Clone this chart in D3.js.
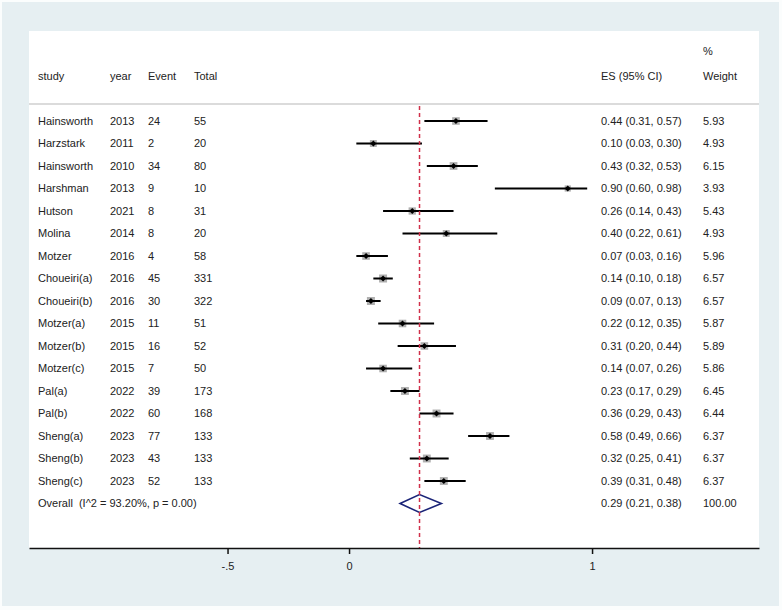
<!DOCTYPE html>
<html>
<head>
<meta charset="utf-8">
<script src="https://cdn.jsdelivr.net/npm/d3@7"></script>
<style>
  body { margin: 0; background: #fff; }
  text { font-family: "Liberation Sans", Arial, sans-serif; font-size: 11px; fill: #222; white-space: pre; }
</style>
</head>
<body>
<div id="chart-area"></div>
<script>
// study data
const studies = ["Hainsworth", "Harzstark", "Hainsworth", "Harshman", "Hutson", "Molina", "Motzer",
  "Choueiri(a)", "Choueiri(b)", "Motzer(a)", "Motzer(b)", "Motzer(c)", "Pal(a)", "Pal(b)",
  "Sheng(a)", "Sheng(b)", "Sheng(c)"]
const years = [2013, 2011, 2010, 2013, 2021, 2014, 2016, 2016, 2016, 2015, 2015, 2015, 2022, 2022, 2023, 2023, 2023]
const events = [24, 2, 34, 9, 8, 8, 4, 45, 30, 11, 16, 7, 39, 60, 77, 43, 52]
const totals = [55, 20, 80, 10, 31, 20, 58, 331, 322, 51, 52, 50, 173, 168, 133, 133, 133]
const es = [0.44, 0.10, 0.43, 0.90, 0.26, 0.40, 0.07, 0.14, 0.09, 0.22, 0.31, 0.14, 0.23, 0.36, 0.58, 0.32, 0.39]
const lower = [0.31, 0.03, 0.32, 0.60, 0.14, 0.22, 0.03, 0.10, 0.07, 0.12, 0.20, 0.07, 0.17, 0.29, 0.49, 0.25, 0.31]
const upper = [0.57, 0.30, 0.53, 0.98, 0.43, 0.61, 0.16, 0.18, 0.13, 0.35, 0.44, 0.26, 0.29, 0.43, 0.66, 0.41, 0.48]
const weights = [5.93, 4.93, 6.15, 3.93, 5.43, 4.93, 5.96, 6.57, 6.57, 5.87, 5.89, 5.86, 6.45, 6.44, 6.37, 6.37, 6.37]

// pooled estimate
const overallLabel = "Overall  (I^2 = 93.20%, p = 0.00)"
const overall = { es: 0.29, lower: 0.21, upper: 0.38, weight: 100.00 }

// axis
const tickValues = [-0.5, 0, 1]
const tickLabels = ["-.5", "0", "1"]

const W = 782
const H = 610
const PLOT = { LEFT: 29, RIGHT: 759, TOP: 31, AXIS: 548 }

const svg = d3.select("#chart-area").append("svg")
  .attr("width", W)
  .attr("height", H)

// outer background + white plot panel
svg.append("rect").attr("x", 0).attr("y", 0).attr("width", W).attr("height", H).attr("fill", "#fbfdfd")
svg.append("rect").attr("x", 2).attr("y", 2).attr("width", W - 5).attr("height", H - 6).attr("fill", "#e6eff2")
svg.append("rect")
  .attr("x", PLOT.LEFT).attr("y", PLOT.TOP)
  .attr("width", PLOT.RIGHT - PLOT.LEFT).attr("height", PLOT.AXIS - PLOT.TOP)
  .attr("fill", "#fff")

const x = d3.scaleLinear()
  .domain([-1.317, 1.687])
  .range([PLOT.LEFT, PLOT.RIGHT])

const rowIds = d3.range(studies.length + 1)
const y = d3.scalePoint()
  .domain(rowIds)
  .range([121, 503.5])

const boxSide = d3.scaleSqrt().domain([0, 6.57]).range([0, 8])

const cols = { study: 38, year: 110, event: 148, total: 194, es: 601, weight: 703 }

// header
const header = svg.append("g")
const headBase = 80
header.append("text").attr("x", cols.study).attr("y", headBase).text("study")
header.append("text").attr("x", cols.year).attr("y", headBase).text("year")
header.append("text").attr("x", cols.event).attr("y", headBase).text("Event")
header.append("text").attr("x", cols.total).attr("y", headBase).text("Total")
header.append("text").attr("x", cols.es).attr("y", headBase).text("ES (95% CI)")
header.append("text").attr("x", cols.weight).attr("y", headBase).text("Weight")
header.append("text").attr("x", cols.weight).attr("y", 55).text("%")

svg.append("line")
  .attr("x1", PLOT.LEFT).attr("x2", PLOT.RIGHT)
  .attr("y1", 104).attr("y2", 104)
  .attr("stroke", "#cfcfcf").attr("stroke-width", 1.5)

const f2 = d3.format(".2f")
const rows = studies.map((s, i) => ({
  id: i, study: s, year: years[i], event: events[i], total: totals[i],
  es: es[i], lower: lower[i], upper: upper[i], weight: weights[i]
}))

// table text
const tbl = svg.append("g")
const rowText = (col, fn) => tbl.selectAll(null).data(rows).enter().append("text")
  .attr("x", col).attr("y", d => y(d.id)).attr("dy", "0.35em").text(fn)
rowText(cols.study, d => d.study)
rowText(cols.year, d => d.year)
rowText(cols.event, d => d.event)
rowText(cols.total, d => d.total)
rowText(cols.es, d => `${f2(d.es)} (${f2(d.lower)}, ${f2(d.upper)})`)
rowText(cols.weight, d => f2(d.weight))

const oy = y(studies.length)
tbl.append("text").attr("x", cols.study).attr("y", oy).attr("dy", "0.35em").text(overallLabel)
tbl.append("text").attr("x", cols.es).attr("y", oy).attr("dy", "0.35em")
  .text(`${f2(overall.es)} (${f2(overall.lower)}, ${f2(overall.upper)})`)
tbl.append("text").attr("x", cols.weight).attr("y", oy).attr("dy", "0.35em").text(f2(overall.weight))

// weight boxes
const marks = svg.append("g")
marks.selectAll("rect.box").data(rows).enter().append("rect")
  .attr("class", "box")
  .attr("x", d => x(d.es) - boxSide(d.weight) / 2)
  .attr("y", d => y(d.id) - boxSide(d.weight) / 2)
  .attr("width", d => boxSide(d.weight))
  .attr("height", d => boxSide(d.weight))
  .attr("fill", "#b0b0b0")

// confidence intervals
marks.selectAll("line.ci").data(rows).enter().append("line")
  .attr("class", "ci")
  .attr("x1", d => x(d.lower)).attr("x2", d => x(d.upper))
  .attr("y1", d => y(d.id)).attr("y2", d => y(d.id))
  .attr("stroke", "#000").attr("stroke-width", 2)

// point estimates
marks.selectAll("path.pt").data(rows).enter().append("path")
  .attr("class", "pt")
  .attr("d", d => {
    const cx = x(d.es), cy = y(d.id), r = 3
    return `M${cx - r},${cy}L${cx},${cy - r}L${cx + r},${cy}L${cx},${cy + r}Z`
  })
  .attr("fill", "#000")

// pooled diamond
svg.append("path")
  .attr("d", `M${x(overall.lower)},${oy}L${x(overall.es)},${oy - 9}L${x(overall.upper)},${oy}L${x(overall.es)},${oy + 9}Z`)
  .attr("fill", "none")
  .attr("stroke", "#1b2478")
  .attr("stroke-width", 1.6)

// reference line at pooled estimate
svg.append("line")
  .attr("x1", x(overall.es)).attr("x2", x(overall.es))
  .attr("y1", 106).attr("y2", PLOT.AXIS)
  .attr("stroke", "#d0304a").attr("stroke-width", 1.5)
  .attr("stroke-dasharray", "4,3")

// x axis
const xAxisCall = d3.axisBottom(x)
  .tickValues(tickValues)
  .tickFormat((d, i) => tickLabels[i])
  .tickSize(6)
  .tickSizeOuter(0)
  .tickPadding(8)

const xAxisGroup = svg.append("g")
  .attr("transform", `translate(0, ${PLOT.AXIS})`)
  .call(xAxisCall)
xAxisGroup.select(".domain").attr("stroke", "#111").attr("stroke-width", 1.5)
xAxisGroup.selectAll(".tick line").attr("stroke", "#111").attr("stroke-width", 1.5)
xAxisGroup.selectAll(".tick text")
  .attr("font-family", "Liberation Sans, Arial, sans-serif")
  .attr("font-size", 11)
  .attr("fill", "#222")
</script>
</body>
</html>
